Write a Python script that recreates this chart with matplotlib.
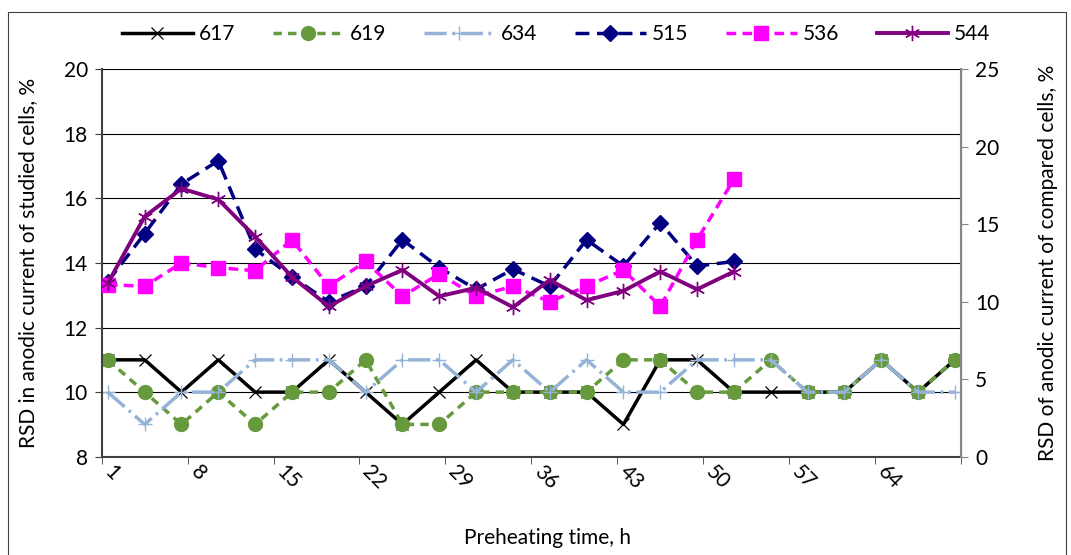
import matplotlib
matplotlib.use("Agg")
import matplotlib.pyplot as plt
from matplotlib.patches import Rectangle

plt.rcParams.update({
    "font.family": ["Lato", "DejaVu Sans"],
    "font.size": 15,
    "lines.scale_dashes": False,
})

# ---------------------------- data -----------------------------------------
hours = [1, 4, 7, 10, 13, 16, 19, 22, 25, 28, 31, 34, 37, 40, 43, 46,
         49, 52, 55, 58, 61, 64, 67, 70]
tick_hours = [1, 8, 15, 22, 29, 36, 43, 50, 57, 64]

# studied cells (left axis)
s617 = [11, 11, 10, 11, 10, 10, 11, 10, 9, 10, 11, 10, 10, 10, 9, 11,
        11, 10, 10, 10, 10, 11, 10, 11]
s619 = [11, 10, 9, 10, 9, 10, 10, 11, 9, 9, 10, 10, 10, 10, 11, 11,
        10, 10, 11, 10, 10, 11, 10, 11]
s634 = [10, 9, 10, 10, 11, 11, 11, 10, 11, 11, 10, 11, 10, 11, 10, 10,
        11, 11, 11, 10, 10, 11, 10, 10]
# compared cells (right axis), measured up to 52 h
hours_cmp = hours[:18]
s515 = [11.3, 14.4, 17.6, 19.1, 13.4, 11.6, 10.0, 11.0, 14.0, 12.2, 10.8, 12.1,
        11.0, 14.0, 12.3, 15.1, 12.3, 12.6]
s536 = [11.1, 11.0, 12.5, 12.2, 12.0, 14.0, 11.0, 12.6, 10.35, 11.8, 10.35, 11.0,
        10.0, 11.0, 12.05, 9.7, 14.0, 17.9]
s544 = [11.2, 15.5, 17.3, 16.6, 14.2, 11.6, 9.7, 11.0, 12.05, 10.35, 10.9, 9.65,
        11.4, 10.1, 10.7, 11.95, 10.8, 11.95]

W, H = 1071, 555
fig = plt.figure(figsize=(W / 100, H / 100), dpi=100)
ax = fig.add_axes([101.7 / W, 1 - 456.7 / H, (961 - 101.7) / W, (456.7 - 69.3) / H])
ax2 = ax.twinx()

lw = 2.5
ax.plot(hours, s617, color="black", lw=lw, marker="x", ms=9, mew=0.9, label="617")
ax.plot(hours, s619, color="#669a3c", lw=lw, dashes=(6, 4.5), marker="o", ms=10,
        label="619")
ax.plot(hours, s634, color="#95b3d7", lw=lw, dashes=(16, 4, 2, 4), marker="+",
        ms=10, mew=1, label="634")
ax2.plot(hours_cmp, s515, color="#000080", lw=lw, dashes=(10, 5.5), marker="D",
         ms=8.5, label="515")
ax2.plot(hours_cmp, s536, color="#ff00ff", lw=lw, dashes=(7, 4.5), marker="s",
         ms=10, label="536")
ax2.plot(hours_cmp, s544, color="#800080", lw=2.8, marker=(6, 2, 0), ms=11, mew=1,
         label="544")

# left axis
ax.set_xlim(0.5, 70.5)
ax.set_ylim(8, 20)
ax.set_yticks(range(8, 21, 2))
ax.grid(axis="y", color="black", lw=0.8)
ax.set_axisbelow(True)
ax.tick_params(axis="y", direction="out", length=5, color="#404040", pad=5)

# right axis
ax2.set_ylim(0, 25)
ax2.set_yticks(range(0, 26, 5))
ax2.tick_params(axis="y", direction="out", length=5, color="#868686", pad=5)

# x axis: tick marks between categories, labels on categories
ax.set_xticks(tick_hours)
ax.set_xticklabels([str(h) for h in tick_hours], rotation=-45, ha="left",
                   va="center", rotation_mode="anchor")
ax.tick_params(axis="x", which="major", length=0, pad=9)
ax.set_xticks([0.5 + 7 * k for k in range(11)], minor=True)
ax.tick_params(axis="x", which="minor", direction="out", length=5, color="#404040")

for a in (ax, ax2):
    a.spines["top"].set_visible(False)
ax.spines["left"].set_color("#404040")
ax.spines["left"].set_linewidth(1.5)
ax.spines["bottom"].set_color("#404040")
ax.spines["bottom"].set_linewidth(1.5)
ax2.spines["right"].set_color("#868686")
ax2.spines["right"].set_linewidth(1.5)
ax2.spines["left"].set_visible(False)
ax2.spines["bottom"].set_visible(False)

ax.set_ylabel("RSD in anodic current of studied cells, %")
ax2.set_ylabel("RSD of anodic current of compared cells, %")
ax.yaxis.set_label_coords(-0.074, 0.5)
ax2.yaxis.set_label_coords(1.09, 0.5)
fig.text(548 / W, 1 - 538 / H, "Preheating time, h", ha="center", va="center")

h1, l1 = ax.get_legend_handles_labels()
h2, l2 = ax2.get_legend_handles_labels()
fig.legend(h1 + h2, l1 + l2, loc="center", bbox_to_anchor=(556 / W, 1 - 34 / H),
           ncol=6, frameon=False, handlelength=3.4, handletextpad=0.3,
           columnspacing=1.8)

fig.patches.append(Rectangle((8 / W, -0.01), (1066 - 8) / W, 1 - 12 / H + 0.01,
                             transform=fig.transFigure, fill=False,
                             ec="#404040", lw=0.8))

fig.savefig("out.png", dpi=100)
